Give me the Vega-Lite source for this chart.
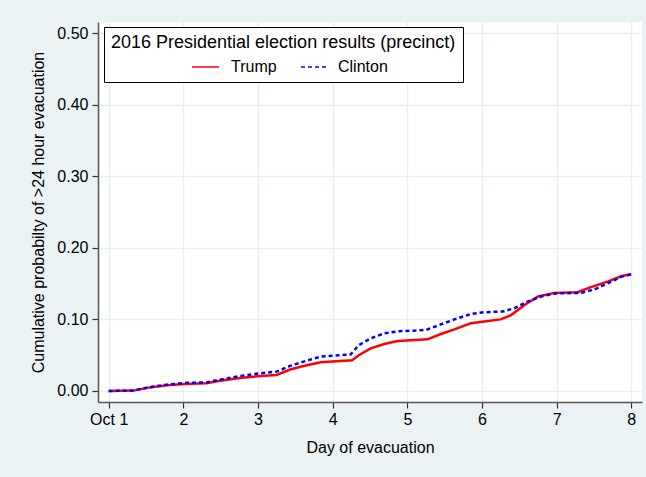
{
  "$schema": "https://vega.github.io/schema/vega-lite/v6.json",
  "width": 544,
  "height": 380,
  "autosize": {"type": "none"},
  "padding": {"left": 98, "top": 22, "right": 4, "bottom": 75},
  "background": "#EAF2F3",
  "config": {
    "font": "Liberation Sans",
    "view": {"fill": "white", "stroke": null},
    "legend": {
      "orient": "none",
      "direction": "horizontal",
      "labelFontSize": 16,
      "labelColor": "black",
      "labelOffset": 11,
      "clipHeight": 16,
      "symbolType": "stroke",
      "symbolStrokeWidth": 1.5
    }
  },
  "data": {
    "values": [
      {"day": 1.00, "prob": 0.0000, "vote": "Trump"},
      {"day": 1.33, "prob": 0.0005, "vote": "Trump"},
      {"day": 1.55, "prob": 0.0050, "vote": "Trump"},
      {"day": 1.78, "prob": 0.0080, "vote": "Trump"},
      {"day": 2.02, "prob": 0.0098, "vote": "Trump"},
      {"day": 2.31, "prob": 0.0107, "vote": "Trump"},
      {"day": 2.49, "prob": 0.0144, "vote": "Trump"},
      {"day": 2.76, "prob": 0.0180, "vote": "Trump"},
      {"day": 3.03, "prob": 0.0210, "vote": "Trump"},
      {"day": 3.25, "prob": 0.0223, "vote": "Trump"},
      {"day": 3.43, "prob": 0.0300, "vote": "Trump"},
      {"day": 3.61, "prob": 0.0350, "vote": "Trump"},
      {"day": 3.84, "prob": 0.0400, "vote": "Trump"},
      {"day": 4.26, "prob": 0.0428, "vote": "Trump"},
      {"day": 4.35, "prob": 0.0500, "vote": "Trump"},
      {"day": 4.51, "prob": 0.0596, "vote": "Trump"},
      {"day": 4.69, "prob": 0.0656, "vote": "Trump"},
      {"day": 4.87, "prob": 0.0698, "vote": "Trump"},
      {"day": 5.27, "prob": 0.0721, "vote": "Trump"},
      {"day": 5.45, "prob": 0.0796, "vote": "Trump"},
      {"day": 5.63, "prob": 0.0860, "vote": "Trump"},
      {"day": 5.85, "prob": 0.0945, "vote": "Trump"},
      {"day": 6.03, "prob": 0.0970, "vote": "Trump"},
      {"day": 6.25, "prob": 0.1000, "vote": "Trump"},
      {"day": 6.39, "prob": 0.1060, "vote": "Trump"},
      {"day": 6.57, "prob": 0.1200, "vote": "Trump"},
      {"day": 6.75, "prob": 0.1320, "vote": "Trump"},
      {"day": 6.97, "prob": 0.1370, "vote": "Trump"},
      {"day": 7.28, "prob": 0.1380, "vote": "Trump"},
      {"day": 7.46, "prob": 0.1450, "vote": "Trump"},
      {"day": 7.69, "prob": 0.1530, "vote": "Trump"},
      {"day": 7.87, "prob": 0.1606, "vote": "Trump"},
      {"day": 8.00, "prob": 0.1630, "vote": "Trump"},
      {"day": 1.00, "prob": 0.0000, "vote": "Clinton"},
      {"day": 1.33, "prob": 0.0005, "vote": "Clinton"},
      {"day": 1.55, "prob": 0.0055, "vote": "Clinton"},
      {"day": 1.78, "prob": 0.0088, "vote": "Clinton"},
      {"day": 2.02, "prob": 0.0112, "vote": "Clinton"},
      {"day": 2.31, "prob": 0.0120, "vote": "Clinton"},
      {"day": 2.49, "prob": 0.0158, "vote": "Clinton"},
      {"day": 2.76, "prob": 0.0210, "vote": "Clinton"},
      {"day": 3.03, "prob": 0.0247, "vote": "Clinton"},
      {"day": 3.25, "prob": 0.0270, "vote": "Clinton"},
      {"day": 3.43, "prob": 0.0350, "vote": "Clinton"},
      {"day": 3.61, "prob": 0.0410, "vote": "Clinton"},
      {"day": 3.84, "prob": 0.0480, "vote": "Clinton"},
      {"day": 4.24, "prob": 0.0510, "vote": "Clinton"},
      {"day": 4.35, "prob": 0.0640, "vote": "Clinton"},
      {"day": 4.51, "prob": 0.0735, "vote": "Clinton"},
      {"day": 4.69, "prob": 0.0805, "vote": "Clinton"},
      {"day": 4.87, "prob": 0.0833, "vote": "Clinton"},
      {"day": 5.25, "prob": 0.0852, "vote": "Clinton"},
      {"day": 5.45, "prob": 0.0930, "vote": "Clinton"},
      {"day": 5.63, "prob": 0.1000, "vote": "Clinton"},
      {"day": 5.85, "prob": 0.1075, "vote": "Clinton"},
      {"day": 6.03, "prob": 0.1100, "vote": "Clinton"},
      {"day": 6.28, "prob": 0.1110, "vote": "Clinton"},
      {"day": 6.43, "prob": 0.1155, "vote": "Clinton"},
      {"day": 6.61, "prob": 0.1248, "vote": "Clinton"},
      {"day": 6.79, "prob": 0.1320, "vote": "Clinton"},
      {"day": 7.00, "prob": 0.1364, "vote": "Clinton"},
      {"day": 7.33, "prob": 0.1370, "vote": "Clinton"},
      {"day": 7.51, "prob": 0.1420, "vote": "Clinton"},
      {"day": 7.73, "prob": 0.1527, "vote": "Clinton"},
      {"day": 7.87, "prob": 0.1597, "vote": "Clinton"},
      {"day": 8.00, "prob": 0.1630, "vote": "Clinton"}
    ]
  },
  "layer": [
    {
      "transform": [{"filter": "datum.vote == 'Trump'"}],
      "mark": {"type": "line", "strokeWidth": 2.5},
      "encoding": {
        "x": {
          "field": "day",
          "type": "quantitative",
          "scale": {"domain": [0.857, 8.143], "nice": false, "zero": false},
          "axis": {
            "title": "Day of evacuation",
            "values": [1, 2, 3, 4, 5, 6, 7, 8],
            "format": "d",
            "labelExpr": "datum.value == 1 ? 'Oct 1' : datum.label",
            "labelFontSize": 16,
            "labelColor": "black",
            "labelPadding": 3,
            "labelFlush": false,
            "tickSize": 6,
            "tickColor": "#333333",
            "tickWidth": 1.2,
            "domainColor": "#555555",
            "domainWidth": 1.5,
            "grid": true,
            "gridColor": "#E9F0F2",
            "gridWidth": 1.5,
            "titleFontSize": 16,
            "titleFontWeight": "normal",
            "titleColor": "black",
            "titlePadding": 12
          }
        },
        "y": {
          "field": "prob",
          "type": "quantitative",
          "scale": {"domain": [-0.0154, 0.5154], "nice": false, "zero": false},
          "axis": {
            "title": "Cumulative probabilty of >24 hour evacuation",
            "values": [0, 0.1, 0.2, 0.3, 0.4, 0.5],
            "format": ".2f",
            "labelFontSize": 16,
            "labelColor": "black",
            "labelPadding": 4,
            "labelFlush": false,
            "tickSize": 6,
            "tickColor": "#333333",
            "tickWidth": 1.2,
            "domainColor": "#555555",
            "domainWidth": 1.5,
            "grid": true,
            "gridColor": "#E9F0F2",
            "gridWidth": 1.5,
            "titleFontSize": 16,
            "titleFontWeight": "normal",
            "titleColor": "black",
            "titlePadding": 10
          }
        },
        "color": {
          "field": "vote",
          "type": "nominal",
          "scale": {"domain": ["Trump"], "range": ["#FF0000"]},
          "legend": {
            "title": "2016 Presidential election results (precinct)",
            "legendX": 6,
            "legendY": 5,
            "titleFontSize": 18,
            "titleFontWeight": "normal",
            "titleColor": "black",
            "titleLimit": 600,
            "titlePadding": 7,
            "symbolOffset": 80,
            "symbolSize": 729,
            "strokeColor": "black",
            "fillColor": "white",
            "padding": 7
          }
        }
      }
    },
    {
      "transform": [{"filter": "datum.vote == 'Clinton'"}],
      "mark": {"type": "line", "strokeWidth": 2.5},
      "encoding": {
        "x": {"field": "day", "type": "quantitative"},
        "y": {"field": "prob", "type": "quantitative"},
        "color": {
          "field": "vote",
          "type": "nominal",
          "scale": {"domain": ["Clinton"], "range": ["#0000FF"]},
          "legend": {
            "title": null,
            "legendX": 202,
            "legendY": 37,
            "symbolSize": 625,
            "padding": 0
          }
        },
        "strokeDash": {
          "field": "vote",
          "type": "nominal",
          "scale": {"domain": ["Clinton"], "range": [[4, 3]]},
          "legend": {
            "title": null,
            "legendX": 202,
            "legendY": 37,
            "symbolSize": 625,
            "padding": 0
          }
        }
      }
    }
  ],
  "resolve": {"scale": {"color": "independent", "strokeDash": "independent"}}
}
